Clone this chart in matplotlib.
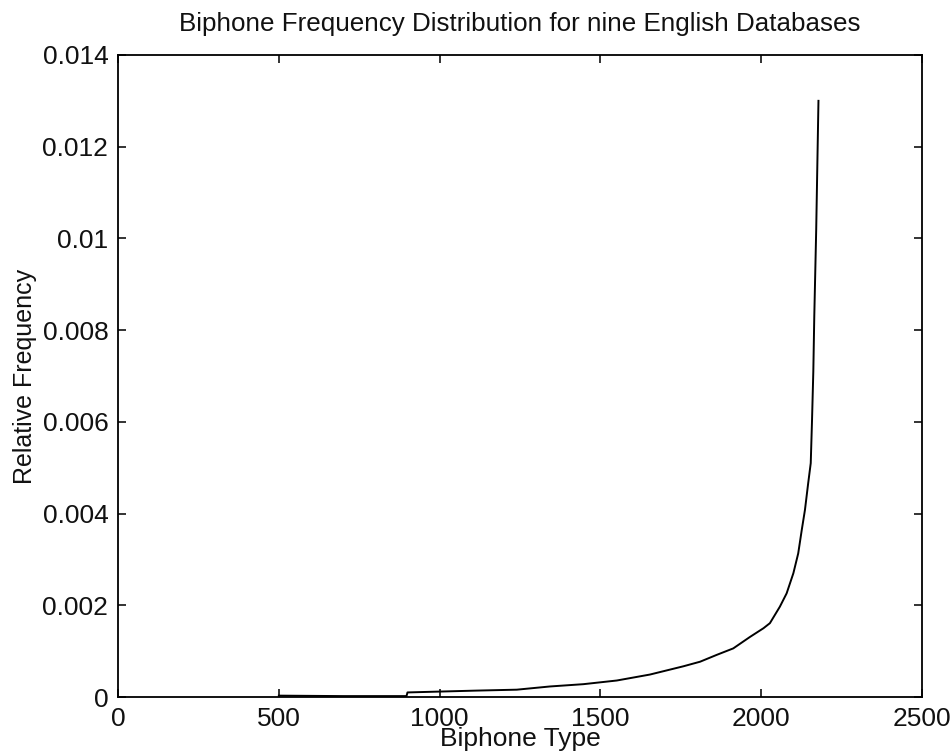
import numpy as np
import matplotlib
matplotlib.use('Agg')
import matplotlib.pyplot as plt

plt.rcParams['font.family'] = ['Liberation Sans', 'DejaVu Sans']

# sorted biphone type index vs relative frequency
biphone = [500, 700, 897, 900, 1115, 1240, 1343, 1447, 1551, 1654, 1758,
           1810, 1862, 1913, 1965, 2007, 2027, 2058, 2079, 2100, 2115,
           2126, 2136, 2146, 2154, 2158, 2162, 2165, 2171, 2178]
rel_freq = [0.00003, 0.00002, 0.00002, 0.00010, 0.00014, 0.00016, 0.00023,
            0.00028, 0.00036, 0.00049, 0.00067, 0.00077, 0.00092, 0.00106,
            0.00131, 0.00150, 0.00161, 0.00197, 0.00226, 0.00270, 0.00313,
            0.00364, 0.00408, 0.00466, 0.00510, 0.00604, 0.00710, 0.00830,
            0.01020, 0.01300]

xticks = [0, 500, 1000, 1500, 2000, 2500]
yticks = [0, 0.002, 0.004, 0.006, 0.008, 0.01, 0.012, 0.014]
yticklabels = ['0', '0.002', '0.004', '0.006', '0.008', '0.01', '0.012', '0.014']

fig = plt.figure(figsize=(9.52, 7.55), dpi=100)
ax = fig.add_axes([0.124, 0.0768, 0.8445, 0.8504])

ax.plot(biphone, rel_freq, color='black', lw=1.4)

ax.set_xlim(0, 2500)
ax.set_ylim(0, 0.014)
ax.set_xticks(xticks)
ax.set_xticklabels([str(t) for t in xticks])
ax.set_yticks(yticks)
ax.set_yticklabels(yticklabels)
ax.tick_params(direction='in', length=6, width=1.2, top=True, right=True,
               labelsize=19, pad=7, colors='#111111')

for s in ax.spines.values():
    s.set_linewidth(1.3)

ax.set_title('Biphone Frequency Distribution for nine English Databases',
             fontsize=18.7, pad=17, color='#111111')
ax.set_xlabel('Biphone Type', fontsize=19, labelpad=-3, color='#111111')
ax.set_ylabel('Relative Frequency', fontsize=18, labelpad=4, color='#111111')

fig.savefig('out.png', dpi=100)
